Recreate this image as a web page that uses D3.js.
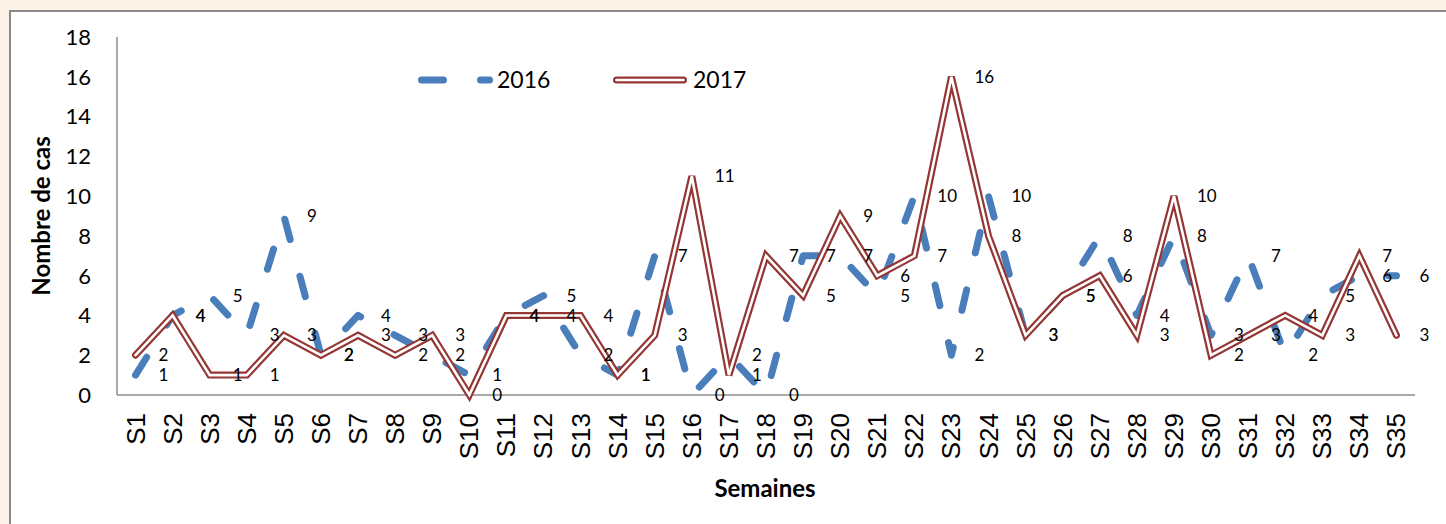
<!DOCTYPE html>
<html>
<head>
<meta charset="utf-8">
<script src="https://cdn.jsdelivr.net/npm/d3@7"></script>
<style>
  html, body { margin: 0; padding: 0; background: #fdf2e8; }
  svg { display: block; }
</style>
</head>
<body>
<svg id="chart" width="1446" height="524"></svg>
<script>
// weekly case counts
const weeks = d3.range(1, 36).map(i => "S" + i);
const cases2016 = [1,4,5,3,9,2,4,3,2,1,4,5,2,1,7,0,2,0,7,7,5,10,2,10,3,5,8,4,8,3,7,2,5,6,6];
const cases2017 = [2,4,1,1,3,2,3,2,3,0,4,4,4,1,3,11,1,7,5,9,6,7,16,8,3,5,6,3,10,2,3,4,3,7,3];
const yTicks = [0,2,4,6,8,10,12,14,16,18];
const seriesNames = ["2016", "2017"];

const blue = "#4a7ebb", red = "#943634";
const svg = d3.select("#chart");

// chart area box
svg.append("rect").attr("x", 10).attr("y", 11).attr("width", 1450).attr("height", 530)
  .attr("fill", "#fff").attr("stroke", "#8a8a8a").attr("stroke-width", 2);

const x = d3.scaleBand().domain(weeks).range([117, 1415]);
const y = d3.scaleLinear().domain([0, 18]).range([395, 37]);
const cx = d => x(d) + x.bandwidth() / 2;

// axes lines
svg.append("line").attr("x1", 117).attr("x2", 117).attr("y1", y(18)).attr("y2", y(0))
  .attr("stroke", "#8c8c8c").attr("stroke-width", 1.5);
svg.append("line").attr("x1", 117).attr("x2", 1415).attr("y1", y(0)).attr("y2", y(0))
  .attr("stroke", "#8c8c8c").attr("stroke-width", 1.5);

// y tick labels
svg.append("g").selectAll("text").data(yTicks).join("text")
  .attr("x", 91).attr("y", d => y(d)).attr("dy", "0.36em")
  .attr("text-anchor", "end").attr("font-family", "Lato").attr("font-size", 22)
  .attr("fill", "#000").text(d => d);

// x tick labels (rotated)
svg.append("g").selectAll("text").data(weeks).join("text")
  .attr("transform", d => `translate(${cx(d) + 9},413) rotate(-90)`)
  .attr("text-anchor", "end").attr("font-family", "Liberation Sans, Arial").attr("font-size", 26)
  .attr("fill", "#000").text(d => d);

// axis titles
svg.append("text").attr("transform", "translate(50,216) rotate(-90)")
  .attr("text-anchor", "middle").attr("font-family", "Lato").attr("font-weight", "bold")
  .attr("font-size", 24).text("Nombre de cas");
svg.append("text").attr("x", 765).attr("y", 497)
  .attr("text-anchor", "middle").attr("font-family", "Lato").attr("font-weight", "bold")
  .attr("font-size", 24).text("Semaines");

const line = d3.line().x((d, i) => cx(weeks[i])).y(d => y(d));

// 2016 dashed
svg.append("path").datum(cases2016).attr("d", line)
  .attr("fill", "none").attr("stroke", blue).attr("stroke-width", 7)
  .attr("stroke-linecap", "round").attr("stroke-linejoin", "round")
  .attr("stroke-dasharray", "21,38");

// 2017 double line
svg.append("path").datum(cases2017).attr("d", line)
  .attr("fill", "none").attr("stroke", red).attr("stroke-width", 7)
  .attr("stroke-linecap", "round").attr("stroke-linejoin", "miter").attr("stroke-miterlimit", 3);
svg.append("path").datum(cases2017).attr("d", line)
  .attr("fill", "none").attr("stroke", "#fff").attr("stroke-width", 2.6)
  .attr("stroke-linecap", "round").attr("stroke-linejoin", "miter").attr("stroke-miterlimit", 3);

// data labels
[cases2016, cases2017].forEach(vals => {
  svg.append("g").selectAll("text").data(vals).join("text")
    .attr("x", (d, i) => cx(weeks[i]) + 23).attr("y", d => y(d)).attr("dy", "0.36em")
    .attr("font-family", "Lato").attr("font-size", 17).attr("fill", "#000").text(d => d);
});

// legend
const lg = svg.append("g");
lg.append("line").attr("x1", 421.5).attr("x2", 489.5).attr("y1", 80).attr("y2", 80)
  .attr("stroke", blue).attr("stroke-width", 7).attr("stroke-linecap", "round")
  .attr("stroke-dasharray", "22,37");
lg.append("text").attr("x", 497).attr("y", 80).attr("dy", "0.36em")
  .attr("font-family", "Lato").attr("font-size", 23).text(seriesNames[0]);
lg.append("line").attr("x1", 616.5).attr("x2", 683.5).attr("y1", 80).attr("y2", 80)
  .attr("stroke", red).attr("stroke-width", 7).attr("stroke-linecap", "round");
lg.append("line").attr("x1", 616.5).attr("x2", 683.5).attr("y1", 80).attr("y2", 80)
  .attr("stroke", "#fff").attr("stroke-width", 2.6).attr("stroke-linecap", "round");
lg.append("text").attr("x", 693).attr("y", 80).attr("dy", "0.36em")
  .attr("font-family", "Lato").attr("font-size", 23).text(seriesNames[1]);
</script>
</body>
</html>
